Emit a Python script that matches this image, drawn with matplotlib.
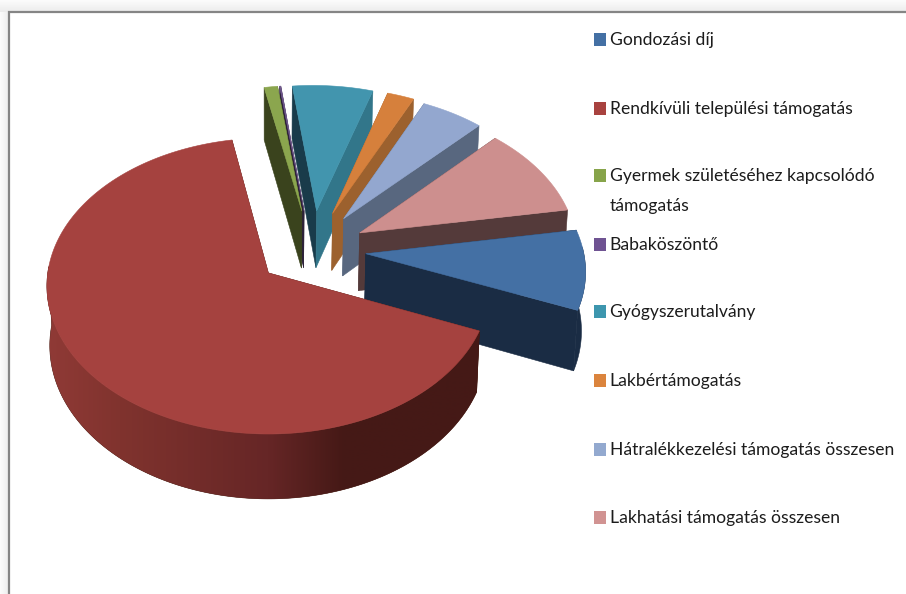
import numpy as np
import matplotlib
matplotlib.use('Agg')
import matplotlib.pyplot as plt
from matplotlib.patches import Polygon, Rectangle

# shares in percent
labels = ['Gondozási díj', 'Rendkívüli települési támogatás',
          'Gyermek születéséhez kapcsolódó\ntámogatás', 'Babaköszöntő',
          'Gyógyszerutalvány', 'Lakbértámogatás',
          'Hátralékkezelési támogatás összesen', 'Lakhatási támogatás összesen']
values = [8.9, 65.9, 1.1, 0.1, 6.6, 2.2, 5.1, 10.1]

top_colors = ['#4470a4', '#a5423f', '#8ba64e', '#71588f', '#4295ae', '#d6803c', '#93a7cf', '#cd8f8e']
left_walls = ['#1a2c44', '#45190f', '#3a431d', '#2c2138', '#193b4a', '#9c612e', '#58677f', '#543a3a']
right_walls = ['#1a2c44', '#45190f', '#3a431d', '#2c2138', '#32768a', '#9c612e', '#58677f', '#543a3a']
legend_colors = ['#4470a4', '#a8423f', '#87a44a', '#6f5392', '#3d96ae', '#db843d', '#93a9cf', '#d19392']
explode = [0.25, 0.255, 0.28, 0.28, 0.28, 0.28, 0.27, 0.255]
legend_y = [39, 108, 175, 244, 311, 380, 449, 517]

start_angle = 80.4
draw_order = [3, 2, 4, 5, 6, 7, 0, 1]

# pie plane -> screen pixels
X0, Y0 = 268, 268.5
R, SQUASH, PERSP = 220, 0.664, 0.088
DEPTH, SHRINK = 59, 0.987
CENTER = np.array([0.20, -0.13])

# shading of the big slice's outer wall, left to right
shade_x = [46, 120, 268, 344, 480]
shade_r = [0x90, 0x80, 0x66, 0x45, 0x45]
shade_g = [0x3a, 0x33, 0x26, 0x19, 0x19]
shade_b = [0x36, 0x2e, 0x26, 0x16, 0x16]


def direction(deg):
    t = np.radians(deg)
    return np.array([np.sin(t), -np.cos(t)])


def top_xy(p):
    w = 1 - PERSP * p[1]
    return X0 + R * p[0] / w, Y0 + R * SQUASH * p[1] / w


def bottom_xy(p):
    x, y = top_xy(p)
    w = 1 - PERSP * p[1]
    return X0 + SHRINK * (x - X0), y + DEPTH / w


fig = plt.figure(figsize=(9.06, 5.94), dpi=100)
ax = fig.add_axes([0, 0, 1, 1])

# soft shadow outside the frame, then the frame itself
for i in range(12):
    g = 0.985 - 0.06 * i / 11
    ax.add_patch(Rectangle((0, i), 906, 1, fc=(g, g, g), ec='none'))
for i in range(8):
    g = 0.985 - 0.05 * i / 7
    ax.add_patch(Rectangle((i, 12), 1, 582, fc=(g, g, g), ec='none'))
ax.plot([8.5, 8.5, 906], [594, 12, 12], color='#858585', lw=1.6, solid_joinstyle='miter')

angles = start_angle + np.cumsum([0] + values) * 3.6

for i in draw_order:
    a0, a1 = angles[i], angles[i + 1]
    mid = (a0 + a1) / 2
    apex = CENTER + explode[i] * direction(mid)
    steps = np.linspace(a0, a1, max(int((a1 - a0) * 2), 4))
    arc = [apex + direction(a) for a in steps]
    z = 2 + draw_order.index(i) * 3

    # radial walls first, the rim wall over them, the top face last
    pts = [top_xy(apex), top_xy(arc[0]), bottom_xy(arc[0]), bottom_xy(apex)]
    ax.add_patch(Polygon(pts, closed=True, fc=left_walls[i], ec=left_walls[i], lw=0.4, zorder=z))
    pts = [top_xy(apex), top_xy(arc[-1]), bottom_xy(arc[-1]), bottom_xy(apex)]
    ax.add_patch(Polygon(pts, closed=True, fc=right_walls[i], ec=right_walls[i], lw=0.4, zorder=z))

    # only the part of the rim that faces the viewer
    front = [apex + direction(a) for a in steps if direction(a)[1] > -0.05]
    if len(front) > 1:
        rim = [top_xy(p) for p in front] + [bottom_xy(p) for p in front[::-1]]
        rim_patch = Polygon(rim, closed=True, fc=left_walls[i], ec=left_walls[i], lw=0.4, zorder=z + 1)
        ax.add_patch(rim_patch)
        if i == 1:
            xs = np.arange(shade_x[0], shade_x[-1] + 1)
            grad = np.stack([np.interp(xs, shade_x, shade_r), np.interp(xs, shade_x, shade_g),
                             np.interp(xs, shade_x, shade_b)], axis=-1)[np.newaxis, :, :] / 255
            img = ax.imshow(grad, extent=(xs[0], xs[-1], 520, 250), aspect='auto',
                            interpolation='bilinear', zorder=z + 1.5)
            img.set_clip_path(rim_patch)

    outline = [top_xy(apex)] + [top_xy(p) for p in arc]
    ax.add_patch(Polygon(outline, closed=True, fc=top_colors[i], ec=top_colors[i], lw=0.4, zorder=z + 2))

# legend
for name, color, y in zip(labels, legend_colors, legend_y):
    ax.add_patch(Rectangle((594, y - 6.5), 11.5, 13, fc=color, ec='none'))
    for k, line in enumerate(name.split('\n')):
        ax.text(609.5, y + 6 + 30 * k, line, fontsize=12.6, color='#1c1c1c', va='baseline', family='Lato')

ax.set_xlim(0, 906)
ax.set_ylim(594, 0)
ax.axis('off')

fig.savefig('out.png', dpi=100)
